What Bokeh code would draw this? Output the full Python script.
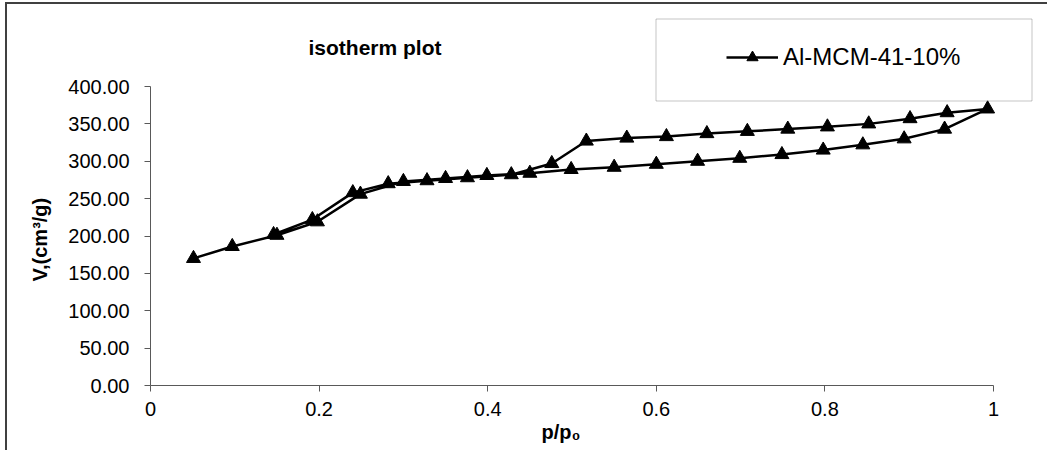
from bokeh.plotting import figure
from bokeh.models import (BoxAnnotation, Legend, LegendItem, NumeralTickFormatter,
                          FixedTicker, Label, Title)
from bokeh.embed import file_html
from bokeh.resources import INLINE

# Nitrogen isotherm of Al-MCM-41 (10 %): adsorption branch (rising p/p0)
p_ads = [0.051, 0.097, 0.150, 0.198, 0.249, 0.300, 0.350, 0.399, 0.450, 0.499,
         0.550, 0.600, 0.649, 0.699, 0.749, 0.798, 0.845, 0.894, 0.942, 0.993]
v_ads = [170, 186, 201, 219, 256, 273, 277, 281, 284, 289,
         292, 296, 300, 304, 309, 315, 322, 330, 343, 370]

# desorption branch (falling p/p0), continues from the last adsorption point
p_des = [0.945, 0.901, 0.852, 0.803, 0.756, 0.708, 0.660, 0.612, 0.565, 0.517,
         0.476, 0.428, 0.376, 0.328, 0.282, 0.240, 0.192, 0.146]
v_des = [365, 357, 350, 346, 343, 340, 337, 333, 331, 327,
         297, 282, 278, 274, 270, 258, 222, 202]

x_ticks = [0, 0.2, 0.4, 0.6, 0.8, 1.0]
y_ticks = [0, 50, 100, 150, 200, 250, 300, 350, 400]

series_name = "Al-MCM-41-10%"
chart_title = "isotherm plot"
x_label = "p/p\u2080"
y_label = "V,(cm\u00b3/g)"

FONT = "Liberation Sans"
AXIS_GREY = "#595959"
FRAME_GREY = "#404040"

# canvas geometry (pixels): the plot frame reaches the top and right edges so
# the title and legend can sit inside it; the axes are bounded to the data span
W, H = 1042, 448
AX_LEFT, AX_RIGHT = 143, 986      # x = 0 and x = 1
AX_BOTTOM, AX_TOP = 381, 82       # y = 0 and y = 400
x_end = (W - AX_LEFT) / (AX_RIGHT - AX_LEFT)
y_end = 400 * AX_BOTTOM / (AX_BOTTOM - AX_TOP)

p = figure(width=W, height=H, output_backend="svg", toolbar_location=None,
           x_range=(0, x_end), y_range=(0, y_end),
           min_border_left=AX_LEFT, min_border_right=0,
           min_border_top=0, min_border_bottom=H - AX_BOTTOM)
p.title_location = None
p.margin = (2, 0, 0, 5)
p.styles = {"border-left": f"2px solid {FRAME_GREY}",
            "border-top": f"2px solid {FRAME_GREY}"}
p.outline_line_color = None
p.background_fill_color = "white"
p.border_fill_color = "white"
p.xgrid.visible = False
p.ygrid.visible = False

# axes
p.xaxis.ticker = FixedTicker(ticks=x_ticks)
p.xaxis.formatter = NumeralTickFormatter(format="0.[0]")
p.xaxis.bounds = (0, 1)
p.yaxis.ticker = FixedTicker(ticks=y_ticks)
p.yaxis.formatter = NumeralTickFormatter(format="0.00")
p.yaxis.bounds = (0, 400)
for ax in (p.xaxis[0], p.yaxis[0]):
    ax.axis_line_color = AXIS_GREY
    ax.axis_line_width = 1
    ax.major_tick_line_color = AXIS_GREY
    ax.major_tick_in = 0
    ax.major_tick_out = 6
    ax.minor_tick_line_color = None
    ax.major_label_text_font = FONT
    ax.major_label_text_font_size = "20px"
    ax.major_label_text_color = "black"
p.xaxis.major_label_standoff = 10
p.yaxis.major_label_standoff = 15

# axis titles, placed along the bounded axis spans
p.add_layout(Title(text=x_label, align="left", offset=391, standoff=0,
                   text_font=FONT, text_font_size="20px",
                   text_font_style="bold", text_color="black"), "below")
p.add_layout(Title(text=y_label, align="left", offset=104, standoff=29,
                   text_font=FONT, text_font_size="20px",
                   text_font_style="bold", text_color="black"), "left")

# one continuous series: up the adsorption branch, back down the desorption branch
xs = p_ads + p_des
ys = v_ads + v_des
ln = p.line(xs, ys, line_color="black", line_width=2.5)
sc = p.scatter(xs, ys, marker="triangle", size=14,
               fill_color="black", line_color="black")

# chart title
p.add_layout(Label(x=299, y=41, x_units="canvas", y_units="canvas",
                   text=chart_title, text_font=FONT, text_font_size="21px",
                   text_font_style="bold", text_color="black",
                   text_align="left", text_baseline="middle"))

# legend with its frame
p.add_layout(BoxAnnotation(left=646.5, right=1022.5, top=12.5, bottom=94.5,
                           left_units="canvas", right_units="canvas",
                           top_units="canvas", bottom_units="canvas",
                           fill_alpha=0, line_color=FRAME_GREY, line_width=1))
legend = Legend(items=[LegendItem(label=series_name, renderers=[ln, sc])],
                location=(576, AX_BOTTOM - 67), glyph_width=52, glyph_height=28,
                label_height=28, label_standoff=5, padding=0, spacing=0,
                margin=0, border_line_alpha=0, background_fill_alpha=0,
                label_text_font=FONT, label_text_font_size="24px",
                label_text_color="black")
p.add_layout(legend)

open("out.html", "w").write(file_html(p, INLINE))
